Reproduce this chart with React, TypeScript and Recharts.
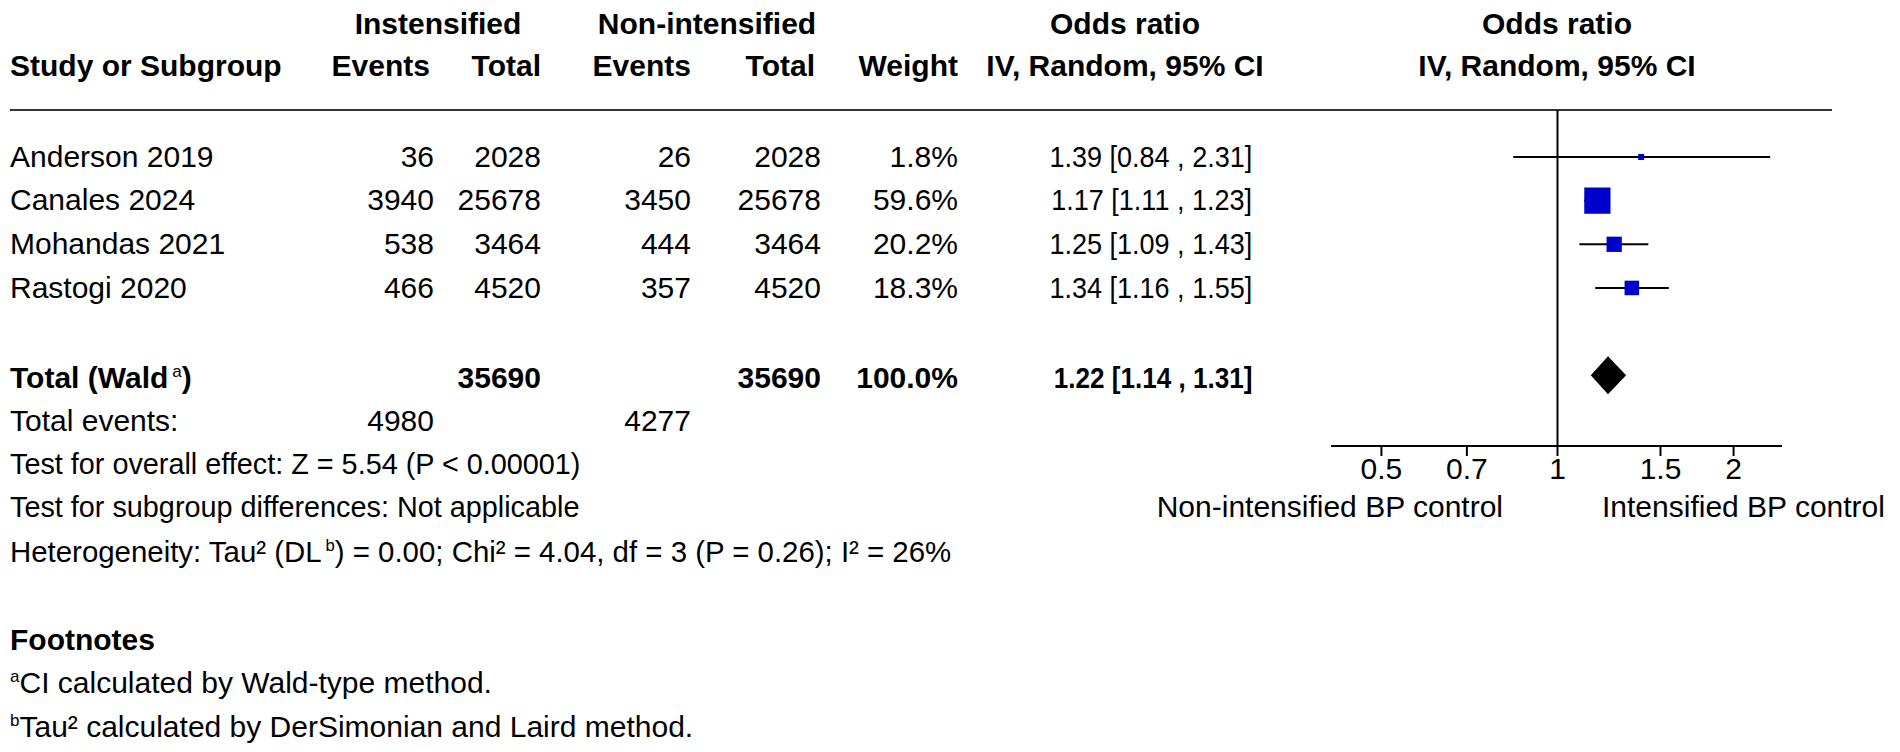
import React from 'react';
import { ComposedChart, Scatter, ErrorBar, XAxis, YAxis, ReferenceLine } from 'recharts';

// study level data
const studies = ['Anderson 2019', 'Canales 2024', 'Mohandas 2021', 'Rastogi 2020'];
const eventsIntensified = [36, 3940, 538, 466];
const totalIntensified = [2028, 25678, 3464, 4520];
const eventsNonIntensified = [26, 3450, 444, 357];
const totalNonIntensified = [2028, 25678, 3464, 4520];
const weights = [1.8, 59.6, 20.2, 18.3];
const oddsRatios = [1.39, 1.17, 1.25, 1.34];
const ciLower = [0.84, 1.11, 1.09, 1.16];
const ciUpper = [2.31, 1.23, 1.43, 1.55];

// pooled result
const pooledOR = 1.22;
const pooledLower = 1.14;
const pooledUpper = 1.31;
const pooledTotals = [35690, 35690];
const pooledEvents = [4980, 4277];
const pooledWeight = 100.0;

const xTicks = [0.5, 0.7, 1, 1.5, 2];

const FONT = '"Liberation Sans", Arial, Helvetica, sans-serif';
const FS = 30;
const W = 1900;
const H = 752;
const TOTAL_ROW = 6;

const COL = { study: 10, ev1: 434, tot1: 541, ev2: 691, tot2: 821, weight: 958, ci: 1252 };
const studyRowY = [157, 200, 244, 288];

const fmtCI = (or: number, lo: number, hi: number) =>
  `${or.toFixed(2)} [${lo.toFixed(2)} , ${hi.toFixed(2)}]`;

const Txt: React.FC<{
  x: number;
  y: number;
  align?: 'left' | 'right' | 'center';
  bold?: boolean;
  sx?: number;
  children: React.ReactNode;
}> = ({ x, y, align = 'left', bold = false, sx = 1, children }) => {
  const style: React.CSSProperties = {
    position: 'absolute',
    top: y,
    lineHeight: 1,
    fontSize: FS,
    fontWeight: bold ? 700 : 400,
    whiteSpace: 'nowrap',
    color: '#000',
    transformOrigin: align,
  };
  const scale = sx !== 1 ? ` scaleX(${sx})` : '';
  if (align === 'left') {
    style.left = x;
    style.transform = 'translateY(-50%)' + scale;
  } else if (align === 'right') {
    style.right = W - x;
    style.transform = 'translateY(-50%)' + scale;
  } else {
    style.left = x;
    style.transform = 'translate(-50%, -50%)' + scale;
  }
  return <div style={style}>{children}</div>;
};

const Sup: React.FC<{ children: React.ReactNode; gap?: number }> = ({ children, gap = 0 }) => (
  <span style={{ fontSize: 17, position: 'relative', top: -11, marginLeft: gap, fontWeight: 400 }}>
    {children}
  </span>
);

const studyPoints = studies.map((name, i) => ({
  name,
  x: oddsRatios[i],
  y: i + 1,
  weight: weights[i],
  errX: [oddsRatios[i] - ciLower[i], ciUpper[i] - oddsRatios[i]],
}));

const pooledPoints = [
  { x: pooledLower, y: TOTAL_ROW },
  { x: pooledOR, y: TOTAL_ROW },
  { x: pooledUpper, y: TOTAL_ROW },
];

const renderBox = (props: any) => {
  const { cx, cy, payload } = props;
  const side = Math.max(6, 3.4 * Math.sqrt(payload.weight));
  return <rect x={cx - side / 2} y={cy - side / 2} width={side} height={side} fill="#0000cc" />;
};

const renderNothing = () => <g />;

const renderDiamond = (props: any) => {
  const pts = props.points || [];
  if (pts.length < 3) return <g />;
  const [l, c, r] = pts;
  const h = 19;
  return (
    <polygon
      points={`${l.x},${l.y} ${c.x},${c.y - h} ${r.x},${r.y} ${c.x},${c.y + h}`}
      fill="#000"
      stroke="none"
    />
  );
};

export default function App() {
  return (
    <div
      style={{
        position: 'absolute',
        left: 0,
        top: 0,
        width: W,
        height: H,
        background: '#fff',
        fontFamily: FONT,
        overflow: 'hidden',
      }}
    >
      {/* header */}
      <Txt x={438} y={24} align="center" bold>Instensified</Txt>
      <Txt x={707} y={24} align="center" bold>Non-intensified</Txt>
      <Txt x={1125} y={24} align="center" bold>Odds ratio</Txt>
      <Txt x={1557} y={24} align="center" bold>Odds ratio</Txt>

      <Txt x={COL.study} y={66} bold>Study or Subgroup</Txt>
      <Txt x={430} y={66} align="right" bold>Events</Txt>
      <Txt x={COL.tot1} y={66} align="right" bold>Total</Txt>
      <Txt x={COL.ev2} y={66} align="right" bold>Events</Txt>
      <Txt x={815} y={66} align="right" bold>Total</Txt>
      <Txt x={COL.weight} y={66} align="right" bold>Weight</Txt>
      <Txt x={1125} y={66} align="center" bold>IV, Random, 95% CI</Txt>
      <Txt x={1557} y={66} align="center" bold>IV, Random, 95% CI</Txt>

      <div style={{ position: 'absolute', left: 10, top: 109, width: 1822, height: 2, background: '#333' }} />

      {/* study rows */}
      {studies.map((s, i) => (
        <React.Fragment key={s}>
          <Txt x={COL.study} y={studyRowY[i]}>{s}</Txt>
          <Txt x={COL.ev1} y={studyRowY[i]} align="right">{eventsIntensified[i]}</Txt>
          <Txt x={COL.tot1} y={studyRowY[i]} align="right">{totalIntensified[i]}</Txt>
          <Txt x={COL.ev2} y={studyRowY[i]} align="right">{eventsNonIntensified[i]}</Txt>
          <Txt x={COL.tot2} y={studyRowY[i]} align="right">{totalNonIntensified[i]}</Txt>
          <Txt x={COL.weight} y={studyRowY[i]} align="right">{weights[i].toFixed(1)}%</Txt>
          <Txt x={COL.ci} y={studyRowY[i]} align="right" sx={0.9}>
            {fmtCI(oddsRatios[i], ciLower[i], ciUpper[i])}
          </Txt>
        </React.Fragment>
      ))}

      {/* totals */}
      <Txt x={COL.study} y={378} bold>
        Total (Wald<Sup gap={4}>a</Sup>)
      </Txt>
      <Txt x={COL.tot1} y={378} align="right" bold>{pooledTotals[0]}</Txt>
      <Txt x={COL.tot2} y={378} align="right" bold>{pooledTotals[1]}</Txt>
      <Txt x={COL.weight} y={378} align="right" bold>{pooledWeight.toFixed(1)}%</Txt>
      <Txt x={COL.ci} y={378} align="right" bold sx={0.87}>
        {fmtCI(pooledOR, pooledLower, pooledUpper)}
      </Txt>

      <Txt x={COL.study} y={421}>Total events:</Txt>
      <Txt x={COL.ev1} y={421} align="right">{pooledEvents[0]}</Txt>
      <Txt x={COL.ev2} y={421} align="right">{pooledEvents[1]}</Txt>

      <Txt x={COL.study} y={464} sx={0.96}>Test for overall effect: Z = 5.54 (P &lt; 0.00001)</Txt>
      <Txt x={COL.study} y={507} sx={0.96}>Test for subgroup differences: Not applicable</Txt>
      <Txt x={COL.study} y={552} sx={0.98}>
        Heterogeneity: Tau² (DL<Sup gap={4}>b</Sup>) = 0.00; Chi² = 4.04, df = 3 (P = 0.26); I² = 26%
      </Txt>

      <Txt x={COL.study} y={640} bold>Footnotes</Txt>
      <Txt x={COL.study} y={683}>
        <Sup>a</Sup>CI calculated by Wald-type method.
      </Txt>
      <Txt x={COL.study} y={727}>
        <Sup>b</Sup>Tau² calculated by DerSimonian and Laird method.
      </Txt>

      {/* axis captions */}
      <Txt x={1503} y={507} align="right">Non-intensified BP control</Txt>
      <Txt x={1602} y={507}>Intensified BP control</Txt>

      {/* forest plot */}
      <div style={{ position: 'absolute', left: 0, top: 0 }}>
        <ComposedChart width={W} height={H} margin={{ top: 110, right: 118, bottom: 276, left: 1331 }}>
          <XAxis
            type="number"
            dataKey="x"
            scale="log"
            domain={[0.41, 2.42]}
            allowDataOverflow
            ticks={xTicks}
            interval={0}
            tickFormatter={(v: number) => String(v)}
            tickSize={10}
            height={30}
            axisLine={{ stroke: '#000', strokeWidth: 2 }}
            tickLine={{ stroke: '#000', strokeWidth: 2 }}
            tick={{ fill: '#000', fontSize: FS, fontFamily: FONT }}
          />
          <YAxis type="number" dataKey="y" domain={[-0.076, 7.62]} reversed hide width={0} allowDataOverflow />
          <ReferenceLine x={1} stroke="#000" strokeWidth={2} />
          <Scatter data={studyPoints} shape={renderBox} isAnimationActive={false}>
            <ErrorBar dataKey="errX" direction="x" width={0} stroke="#000" strokeWidth={2} isAnimationActive={false} />
          </Scatter>
          <Scatter
            data={pooledPoints}
            shape={renderNothing}
            line={renderDiamond}
            lineType="joint"
            isAnimationActive={false}
          />
        </ComposedChart>
      </div>
    </div>
  );
}
